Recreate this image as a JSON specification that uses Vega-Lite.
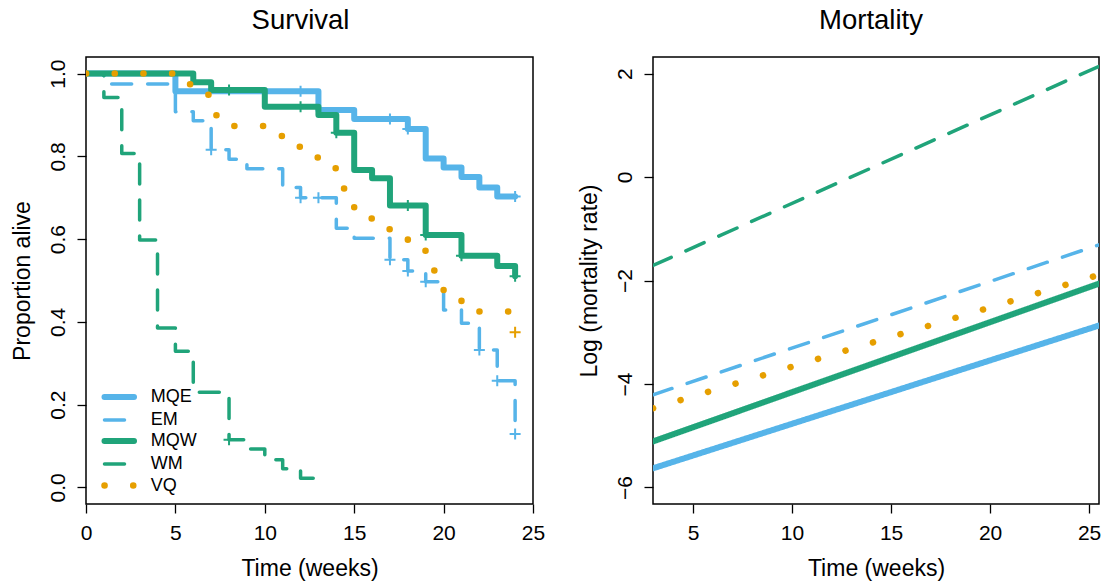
{
  "$schema": "https://vega.github.io/schema/vega-lite/v6.json",
  "background": "white",
  "padding": {"left": 10, "top": 5, "right": 0, "bottom": 0},
  "bounds": "flush",
  "spacing": 120,
  "config": {
    "font": "Liberation Sans",
    "view": {"stroke": "black", "strokeWidth": 1.5},
    "axis": {
      "domain": false, "grid": false, "tickColor": "black", "tickSize": 9, "tickWidth": 1.3,
      "labelFontSize": 21, "labelColor": "black", "labelFont": "Liberation Sans",
      "titleFontSize": 23, "titleColor": "black", "titleFontWeight": "normal", "titleFont": "Liberation Sans",
      "labelFlush": false, "labelOverlap": false
    },
    "axisX": {"labelPadding": 9, "titlePadding": 14},
    "axisY": {"labelAngle": -90, "labelAlign": "center", "labelBaseline": "alphabetic", "labelPadding": 13, "titlePadding": 13},
    "title": {"fontSize": 27.5, "fontWeight": "normal", "color": "black", "font": "Liberation Sans", "baseline": "alphabetic", "offset": 23},
    "legend": {"labelFontSize": 18, "labelColor": "black", "labelFont": "Liberation Sans", "padding": 0}
  },
  "datasets": {
    "km": [
      {"series": "MQE", "time": 0, "prop": 1.0},
      {"series": "MQE", "time": 5, "prop": 0.957},
      {"series": "MQE", "time": 13, "prop": 0.912},
      {"series": "MQE", "time": 15, "prop": 0.890},
      {"series": "MQE", "time": 18, "prop": 0.866},
      {"series": "MQE", "time": 19, "prop": 0.795},
      {"series": "MQE", "time": 20, "prop": 0.773},
      {"series": "MQE", "time": 21, "prop": 0.750},
      {"series": "MQE", "time": 22, "prop": 0.725},
      {"series": "MQE", "time": 23, "prop": 0.703},
      {"series": "MQE", "time": 24, "prop": 0.703},
      {"series": "EM", "time": 0, "prop": 1.0},
      {"series": "EM", "time": 1, "prop": 0.975},
      {"series": "EM", "time": 5, "prop": 0.908},
      {"series": "EM", "time": 6, "prop": 0.886},
      {"series": "EM", "time": 7, "prop": 0.816},
      {"series": "EM", "time": 8, "prop": 0.793},
      {"series": "EM", "time": 9, "prop": 0.770},
      {"series": "EM", "time": 11, "prop": 0.725},
      {"series": "EM", "time": 12, "prop": 0.700},
      {"series": "EM", "time": 14, "prop": 0.626},
      {"series": "EM", "time": 15, "prop": 0.602},
      {"series": "EM", "time": 17, "prop": 0.550},
      {"series": "EM", "time": 18, "prop": 0.523},
      {"series": "EM", "time": 19, "prop": 0.497},
      {"series": "EM", "time": 20, "prop": 0.429},
      {"series": "EM", "time": 21, "prop": 0.397},
      {"series": "EM", "time": 22, "prop": 0.332},
      {"series": "EM", "time": 23, "prop": 0.258},
      {"series": "EM", "time": 24, "prop": 0.129},
      {"series": "MQW", "time": 0, "prop": 1.0},
      {"series": "MQW", "time": 6, "prop": 0.979},
      {"series": "MQW", "time": 7, "prop": 0.960},
      {"series": "MQW", "time": 10, "prop": 0.920},
      {"series": "MQW", "time": 13, "prop": 0.900},
      {"series": "MQW", "time": 14, "prop": 0.857},
      {"series": "MQW", "time": 15, "prop": 0.767},
      {"series": "MQW", "time": 16, "prop": 0.747},
      {"series": "MQW", "time": 17, "prop": 0.681},
      {"series": "MQW", "time": 19, "prop": 0.610},
      {"series": "MQW", "time": 21, "prop": 0.560},
      {"series": "MQW", "time": 23, "prop": 0.535},
      {"series": "MQW", "time": 24, "prop": 0.510},
      {"series": "WM", "time": 0, "prop": 1.0},
      {"series": "WM", "time": 1, "prop": 0.942},
      {"series": "WM", "time": 2, "prop": 0.807},
      {"series": "WM", "time": 3, "prop": 0.598},
      {"series": "WM", "time": 4, "prop": 0.385},
      {"series": "WM", "time": 5, "prop": 0.329},
      {"series": "WM", "time": 6, "prop": 0.230},
      {"series": "WM", "time": 8, "prop": 0.115},
      {"series": "WM", "time": 9, "prop": 0.093},
      {"series": "WM", "time": 10, "prop": 0.067},
      {"series": "WM", "time": 11, "prop": 0.045},
      {"series": "WM", "time": 12, "prop": 0.022},
      {"series": "WM", "time": 13, "prop": 0.0},
      {"series": "VQ", "time": 0, "prop": 1.0},
      {"series": "VQ", "time": 5, "prop": 0.974},
      {"series": "VQ", "time": 6, "prop": 0.949},
      {"series": "VQ", "time": 7, "prop": 0.899},
      {"series": "VQ", "time": 8, "prop": 0.873},
      {"series": "VQ", "time": 10, "prop": 0.849},
      {"series": "VQ", "time": 11, "prop": 0.823},
      {"series": "VQ", "time": 12, "prop": 0.797},
      {"series": "VQ", "time": 13, "prop": 0.771},
      {"series": "VQ", "time": 14, "prop": 0.722},
      {"series": "VQ", "time": 15, "prop": 0.650},
      {"series": "VQ", "time": 16, "prop": 0.624},
      {"series": "VQ", "time": 17, "prop": 0.599},
      {"series": "VQ", "time": 18, "prop": 0.572},
      {"series": "VQ", "time": 19, "prop": 0.524},
      {"series": "VQ", "time": 20, "prop": 0.451},
      {"series": "VQ", "time": 21, "prop": 0.425},
      {"series": "VQ", "time": 24, "prop": 0.375}
    ],
    "cens": [
      {"series": "MQE", "time": 12, "prop": 0.957},
      {"series": "MQE", "time": 17, "prop": 0.890},
      {"series": "MQE", "time": 18, "prop": 0.866},
      {"series": "MQE", "time": 24, "prop": 0.703},
      {"series": "EM", "time": 7, "prop": 0.816},
      {"series": "EM", "time": 12, "prop": 0.700},
      {"series": "EM", "time": 13, "prop": 0.700},
      {"series": "EM", "time": 17, "prop": 0.550},
      {"series": "EM", "time": 18, "prop": 0.523},
      {"series": "EM", "time": 19, "prop": 0.497},
      {"series": "EM", "time": 22, "prop": 0.332},
      {"series": "EM", "time": 23, "prop": 0.258},
      {"series": "EM", "time": 24, "prop": 0.129},
      {"series": "MQW", "time": 8, "prop": 0.960},
      {"series": "MQW", "time": 12, "prop": 0.920},
      {"series": "MQW", "time": 14, "prop": 0.857},
      {"series": "MQW", "time": 18, "prop": 0.681},
      {"series": "MQW", "time": 19, "prop": 0.610},
      {"series": "MQW", "time": 21, "prop": 0.560},
      {"series": "MQW", "time": 24, "prop": 0.510},
      {"series": "WM", "time": 8, "prop": 0.115},
      {"series": "VQ", "time": 24, "prop": 0.375}
    ],
    "mort": [
      {"series": "MQE", "time": 2.98, "lmr": -5.63},
      {"series": "MQE", "time": 25.5, "lmr": -2.87},
      {"series": "EM", "time": 2.98, "lmr": -4.21},
      {"series": "EM", "time": 25.5, "lmr": -1.31},
      {"series": "MQW", "time": 2.98, "lmr": -5.11},
      {"series": "MQW", "time": 25.5, "lmr": -2.06},
      {"series": "WM", "time": 2.98, "lmr": -1.71},
      {"series": "WM", "time": 25.5, "lmr": 2.14},
      {"series": "VQ", "time": 2.98, "lmr": -4.47},
      {"series": "VQ", "time": 25.5, "lmr": -1.89}
    ]
  },
  "hconcat": [
    {
      "width": 447,
      "height": 447,
      "title": {"text": "Survival", "dx": -9},
      "layer": [
        {
          "data": {"name": "km"},
          "mark": {"type": "line", "interpolate": "step-after", "strokeCap": "round", "strokeJoin": "round", "clip": true},
          "encoding": {
            "x": {"field": "time", "type": "quantitative", "scale": {"domain": [0, 25], "nice": false, "zero": false},
                  "axis": {"values": [0, 5, 10, 15, 20, 25], "title": "Time (weeks)"}},
            "y": {"field": "prop", "type": "quantitative", "scale": {"domain": [-0.04, 1.04], "nice": false, "zero": false},
                  "axis": {"values": [0, 0.2, 0.4, 0.6, 0.8, 1.0], "format": ".1f", "title": "Proportion alive"}},
            "color": {"field": "series", "type": "nominal",
                      "scale": {"domain": ["MQE", "EM", "MQW", "WM", "VQ"], "range": ["#56B4E9", "#56B4E9", "#20A47A", "#20A47A", "#E69F00"]},
                      "legend": {"title": null, "orient": "none", "legendX": 20.75, "legendY": 328, "symbolType": "M-1.64,0H1.64", "symbolSize": 324, "labelOffset": 19, "rowPadding": -2.8,
                                 "encode": {"symbols": {"update": {"strokeCap": {"value": "round"}}}}}},
            "strokeWidth": {"field": "series", "type": "nominal",
                            "scale": {"type": "ordinal", "domain": ["MQE", "EM", "MQW", "WM", "VQ"], "range": [6, 3.5, 6, 3.5, 6.5]}},
            "strokeDash": {"field": "series", "type": "nominal",
                           "scale": {"domain": ["MQE", "EM", "MQW", "WM", "VQ"], "range": [[1, 0], [20, 16], [1, 0], [20, 16], [0.1, 28.6]]}}
          }
        },
        {
          "data": {"name": "cens"},
          "mark": {"type": "point", "shape": "M-1,0H1M0,-1V1", "filled": false, "size": 121, "strokeWidth": 2, "opacity": 1, "clip": true},
          "encoding": {
            "x": {"field": "time", "type": "quantitative"},
            "y": {"field": "prop", "type": "quantitative"},
            "color": {"field": "series", "type": "nominal", "legend": null}
          }
        }
      ]
    },
    {
      "width": 446,
      "height": 447,
      "title": {"text": "Mortality", "dx": -5},
      "data": {"name": "mort"},
      "mark": {"type": "line", "strokeCap": "round", "clip": true},
      "encoding": {
        "x": {"field": "time", "type": "quantitative", "scale": {"domain": [2.98, 25.5], "nice": false, "zero": false},
              "axis": {"values": [5, 10, 15, 20, 25], "title": "Time (weeks)"}},
        "y": {"field": "lmr", "type": "quantitative", "scale": {"domain": [-6.32, 2.32], "nice": false, "zero": false},
              "axis": {"values": [-6, -4, -2, 0, 2], "title": "Log (mortality rate)"}},
        "color": {"field": "series", "type": "nominal",
                  "scale": {"domain": ["MQE", "EM", "MQW", "WM", "VQ"], "range": ["#56B4E9", "#56B4E9", "#20A47A", "#20A47A", "#E69F00"]},
                  "legend": {"title": null, "orient": "none", "legendX": 20.75, "legendY": 10.7, "symbolType": "M-1.64,0H1.64", "symbolSize": 324, "labelOffset": 19, "rowPadding": -2.8,
                             "encode": {"symbols": {"update": {"strokeCap": {"value": "round"}}}}}},
        "strokeWidth": {"field": "series", "type": "nominal",
                        "scale": {"type": "ordinal", "domain": ["MQE", "EM", "MQW", "WM", "VQ"], "range": [6, 3.5, 6, 3.5, 6.5]}},
        "strokeDash": {"field": "series", "type": "nominal",
                       "scale": {"domain": ["MQE", "EM", "MQW", "WM", "VQ"], "range": [[1, 0], [20, 16], [1, 0], [20, 16], [0.1, 28.6]]}}
      }
    }
  ]
}
